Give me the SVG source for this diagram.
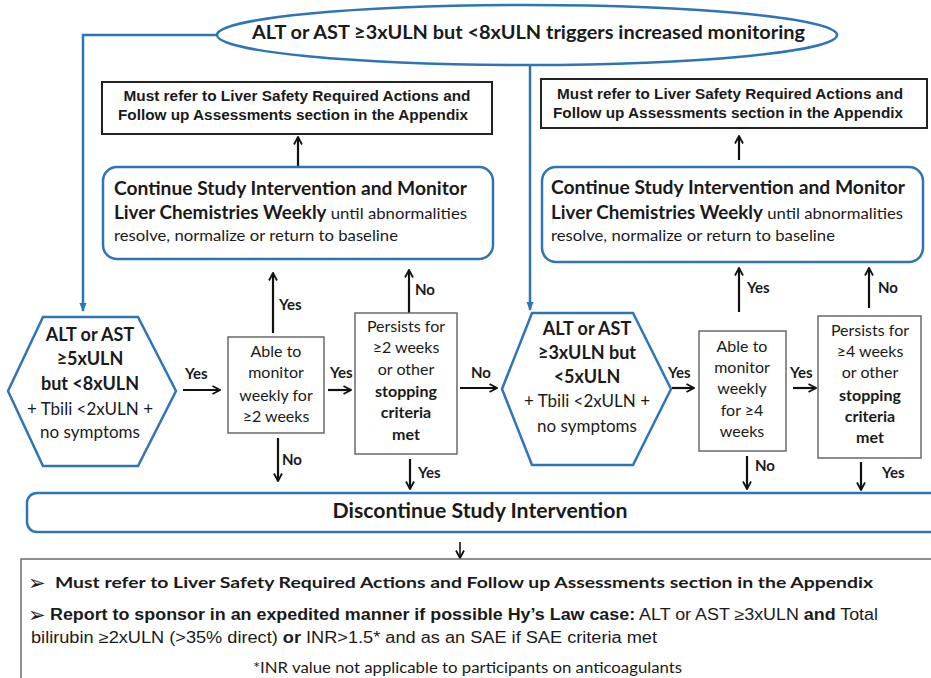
<svg xmlns="http://www.w3.org/2000/svg" width="931" height="678" viewBox="0 0 931 678">
<style>
.cal{font-family:Lato,"Open Sans","Noto Sans",sans-serif;fill:#1a1a1a}
.ari{font-family:"Liberation Sans",Arial,sans-serif;fill:#1a1a1a}
.b{font-weight:bold}
.n{font-weight:normal}
.blue{fill:#fff;stroke:#2E75B6;stroke-width:2.5}
.blk{fill:#fff;stroke:#222;stroke-width:2}
.gry{fill:#fff;stroke:#6a6a6a;stroke-width:1.5}
.con{fill:none;stroke:#111;stroke-width:2.2}
.bcon{fill:none;stroke:#2E75B6;stroke-width:2.5}
.lbl{font-family:Lato,"Open Sans",sans-serif;font-weight:bold;font-size:15px;fill:#1a1a1a}
.bul{font-family:"DejaVu Sans",sans-serif;font-size:21px;fill:#1a1a1a}
</style>
<defs>
<marker id="ah" viewBox="0 0 10 10" refX="9" refY="5" markerWidth="10" markerHeight="10" orient="auto" markerUnits="userSpaceOnUse">
<path d="M1.5,1 L9,5 L1.5,9" fill="none" stroke="#111" stroke-width="1.8"/>
</marker>
<marker id="bh" viewBox="0 0 10 10" refX="9" refY="5" markerWidth="9" markerHeight="9" orient="auto" markerUnits="userSpaceOnUse">
<path d="M0,1 L10,5 L0,9 z" fill="#2E75B6"/>
</marker>
</defs>
<rect width="931" height="678" fill="#fff"/>

<g id="connectors">
<path class="bcon" d="M218,35 H83 V311" marker-end="url(#bh)"/>
<path class="bcon" d="M530,65 V310" marker-end="url(#bh)"/>
<path class="con" d="M298,168 V137" marker-end="url(#ah)"/>
<path class="con" d="M739,160 V136" marker-end="url(#ah)"/>
<path class="con" d="M183,390 H220" marker-end="url(#ah)"/>
<path class="con" d="M328,390 H351" marker-end="url(#ah)"/>
<path class="con" d="M460,388 H497" marker-end="url(#ah)"/>
<path class="con" d="M672,388 H694" marker-end="url(#ah)"/>
<path class="con" d="M793,388 H816" marker-end="url(#ah)"/>
<path class="con" d="M273,333 V273" marker-end="url(#ah)"/>
<path class="con" d="M409,313 V270" marker-end="url(#ah)"/>
<path class="con" d="M739,312 V268" marker-end="url(#ah)"/>
<path class="con" d="M869,308 V268" marker-end="url(#ah)"/>
<path class="con" d="M278,438 V481" marker-end="url(#ah)"/>
<path class="con" d="M410,459 V489" marker-end="url(#ah)"/>
<path class="con" d="M747,456 V489" marker-end="url(#ah)"/>
<path class="con" d="M861,462 V490" marker-end="url(#ah)"/>
<path class="con" d="M460,542 V558" style="stroke-width:1.6" marker-end="url(#ah)"/>
<text class="lbl" x="185" y="379">Yes</text>
<text class="lbl" x="330" y="378">Yes</text>
<text class="lbl" x="471" y="378">No</text>
<text class="lbl" x="668" y="378">Yes</text>
<text class="lbl" x="790" y="378">Yes</text>
<text class="lbl" x="279" y="310">Yes</text>
<text class="lbl" x="415" y="295">No</text>
<text class="lbl" x="747" y="293">Yes</text>
<text class="lbl" x="878" y="293">No</text>
<text class="lbl" x="282" y="465">No</text>
<text class="lbl" x="418" y="478">Yes</text>
<text class="lbl" x="755" y="471">No</text>
<text class="lbl" x="882" y="478">Yes</text>
</g>

<g id="trigger">
<ellipse class="blue" cx="527" cy="35" rx="310" ry="30"/>
<text class="cal b" x="252" y="39" font-size="19" textLength="553" lengthAdjust="spacingAndGlyphs">ALT or AST ≥3xULN but &lt;8xULN triggers increased monitoring</text>
</g>

<g id="refer-left">
<rect class="blk" x="102" y="82" width="390" height="52"/>
<text class="ari b" x="297" y="101" font-size="14.5" text-anchor="middle" textLength="347" lengthAdjust="spacingAndGlyphs">Must refer to Liver Safety Required Actions and</text>
<text class="ari b" x="293" y="120" font-size="14.5" text-anchor="middle" textLength="350" lengthAdjust="spacingAndGlyphs">Follow up Assessments section in the Appendix</text>
</g>

<g id="refer-right">
<rect class="blk" x="541" y="79" width="386" height="49"/>
<text class="ari b" x="730" y="99" font-size="14.5" text-anchor="middle" textLength="346" lengthAdjust="spacingAndGlyphs">Must refer to Liver Safety Required Actions and</text>
<text class="ari b" x="728" y="118" font-size="14.5" text-anchor="middle" textLength="350" lengthAdjust="spacingAndGlyphs">Follow up Assessments section in the Appendix</text>
</g>

<g id="continue-left">
<rect class="blue" x="103" y="167" width="390" height="92" rx="14"/>
<text class="cal b" x="114" y="195" font-size="18" textLength="353" lengthAdjust="spacingAndGlyphs">Continue Study Intervention and Monitor</text>
<text class="cal" x="114" y="219" textLength="353" lengthAdjust="spacingAndGlyphs"><tspan class="b" font-size="18">Liver Chemistries Weekly</tspan><tspan class="n" font-size="16"> until abnormalities</tspan></text>
<text class="cal" x="114" y="241" font-size="16" textLength="284" lengthAdjust="spacingAndGlyphs">resolve, normalize or return to baseline</text>
</g>

<g id="continue-right">
<rect class="blue" x="542" y="167" width="381" height="95" rx="14"/>
<text class="cal b" x="551" y="194" font-size="18" textLength="354" lengthAdjust="spacingAndGlyphs">Continue Study Intervention and Monitor</text>
<text class="cal" x="551" y="219" textLength="352" lengthAdjust="spacingAndGlyphs"><tspan class="b" font-size="18">Liver Chemistries Weekly</tspan><tspan class="n" font-size="16"> until abnormalities</tspan></text>
<text class="cal" x="551" y="241" font-size="16" textLength="284" lengthAdjust="spacingAndGlyphs">resolve, normalize or return to baseline</text>
</g>

<g id="hex-5x">
<polygon class="blue" points="43,317 138,317 176,391 138,466 43,466 8,391"/>
<g class="cal" font-size="18" text-anchor="middle">
<text class="b" x="90" y="341">ALT or AST</text>
<text class="b" x="90" y="365">≥5xULN</text>
<text class="b" x="90" y="390">but &lt;8xULN</text>
<text x="90" y="415" font-size="17">+ Tbili &lt;2xULN +</text>
<text x="90" y="438" font-size="17">no symptoms</text>
</g>
</g>

<g id="monitor-2wk">
<rect class="gry" x="228" y="337" width="96" height="96"/>
<g class="cal" font-size="16" text-anchor="middle">
<text x="276" y="357">Able to</text>
<text x="276" y="378">monitor</text>
<text x="276" y="401">weekly  for</text>
<text x="276" y="422">≥2 weeks</text>
</g>
</g>

<g id="persist-2wk">
<rect class="gry" x="355" y="313" width="102" height="141"/>
<g class="cal" font-size="16" text-anchor="middle">
<text x="406" y="332">Persists for</text>
<text x="406" y="353">≥2 weeks</text>
<text x="406" y="375">or other</text>
<text class="b" x="406" y="397">stopping</text>
<text class="b" x="406" y="418">criteria</text>
<text class="b" x="406" y="440">met</text>
</g>
</g>

<g id="hex-3x">
<polygon class="blue" points="532,313 633,313 671,389 633,465 532,465 502,389"/>
<g class="cal" font-size="18" text-anchor="middle">
<text class="b" x="587" y="335">ALT or AST</text>
<text class="b" x="587" y="359">≥3xULN but</text>
<text class="b" x="587" y="383">&lt;5xULN</text>
<text x="587" y="407" font-size="17">+ Tbili &lt;2xULN +</text>
<text x="587" y="432" font-size="17">no symptoms</text>
</g>
</g>

<g id="monitor-4wk">
<rect class="gry" x="699" y="331" width="87" height="120"/>
<g class="cal" font-size="16" text-anchor="middle">
<text x="742" y="352">Able to</text>
<text x="742" y="373">monitor</text>
<text x="742" y="394">weekly</text>
<text x="742" y="416">for  ≥4</text>
<text x="742" y="437">weeks</text>
</g>
</g>

<g id="persist-4wk">
<rect class="gry" x="818" y="316" width="103" height="142"/>
<g class="cal" font-size="16" text-anchor="middle">
<text x="870" y="336">Persists for</text>
<text x="870" y="357">≥4 weeks</text>
<text x="870" y="378">or other</text>
<text class="b" x="870" y="401">stopping</text>
<text class="b" x="870" y="422">criteria</text>
<text class="b" x="870" y="443">met</text>
</g>
</g>

<g id="discontinue">
<rect class="blue" x="27" y="493" width="940" height="39" rx="10"/>
<text class="cal b" x="480" y="518" font-size="20" text-anchor="middle" textLength="295" lengthAdjust="spacingAndGlyphs">Discontinue Study Intervention</text>
</g>

<g id="actions">
<rect class="gry" x="21" y="559" width="950" height="140"/>
<text class="bul" x="28" y="590">➢</text>
<text class="cal b" x="55" y="588" font-size="16" textLength="818" lengthAdjust="spacingAndGlyphs">Must refer to Liver Safety Required Actions and Follow up Assessments section in the Appendix</text>
<text class="bul" x="28" y="622">➢</text>
<text class="ari" x="50" y="620" font-size="16" textLength="828" lengthAdjust="spacingAndGlyphs"><tspan class="b">Report to sponsor in an expedited manner if possible Hy’s Law case:</tspan> ALT or AST ≥3xULN <tspan class="b">and</tspan> Total</text>
<text class="ari" x="31" y="643" font-size="16" textLength="626" lengthAdjust="spacingAndGlyphs">bilirubin  ≥2xULN (&gt;35% direct)  <tspan class="b">or</tspan>  INR&gt;1.5* and as an SAE if SAE criteria met</text>
<text class="cal" x="253" y="673" font-size="15" textLength="429" lengthAdjust="spacingAndGlyphs">*INR value not applicable to participants on anticoagulants</text>
</g>
</svg>
